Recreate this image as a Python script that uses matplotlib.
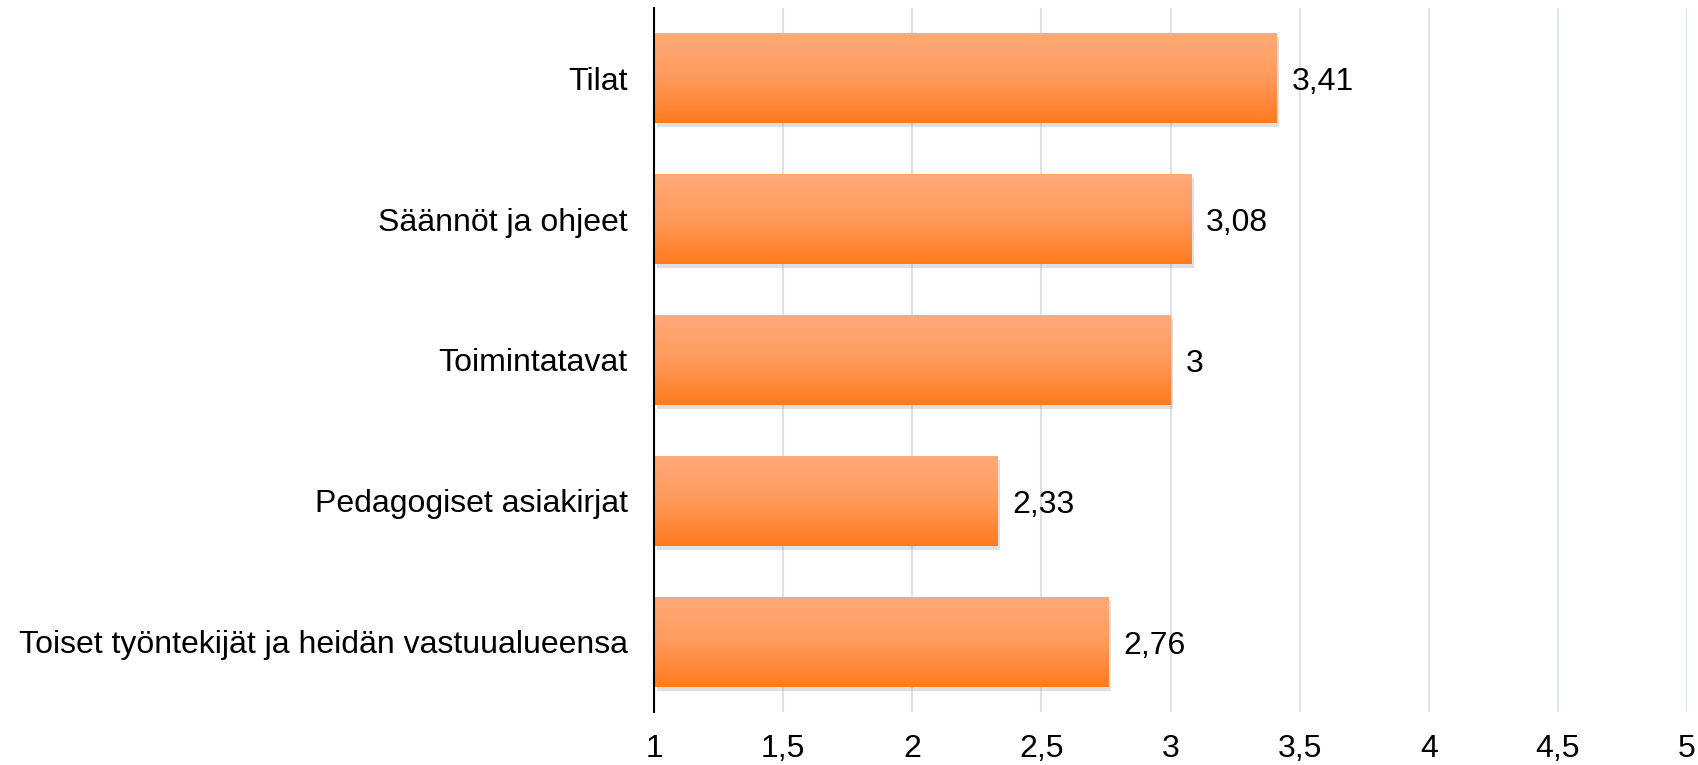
import matplotlib
matplotlib.use('Agg')
import matplotlib.pyplot as plt
import matplotlib.patheffects as pe
import numpy as np

plt.rcParams['font.family'] = ['Liberation Sans', 'DejaVu Sans']

# data, top to bottom as in the chart
categories = ['Tilat', 'Säännöt ja ohjeet', 'Toimintatavat',
              'Pedagogiset asiakirjat',
              'Toiset työntekijät ja heidän vastuualueensa']
values = [3.41, 3.08, 3.0, 2.33, 2.76]
xticks = [1, 1.5, 2, 2.5, 3, 3.5, 4, 4.5, 5]
xlabels = ['1', '1,5', '2', '2,5', '3', '3,5', '4', '4,5', '5']

fig = plt.figure(figsize=(16.99, 7.65), dpi=100)
ax = fig.add_axes([0.385, 0.069, 0.608, 0.921])

ypos = np.arange(len(categories))
bars = ax.barh(ypos, [v - 1 for v in values], left=1, height=0.64,
               facecolor='none', edgecolor='none', zorder=2)

# vertical colour gradient, light at top, darker at bottom
grad = np.linspace(0, 1, 256).reshape(-1, 1)
cmap = matplotlib.colors.LinearSegmentedColormap.from_list(
    'org', ['#ffaa7a', '#ff9a5c', '#ff7a1e'])
for b in bars:
    b.set_path_effects([pe.SimplePatchShadow(offset=(2, -3),
                                             shadow_rgbFace='#999999',
                                             alpha=0.3)])
    x0, y0 = b.get_x(), b.get_y()
    im = ax.imshow(grad, cmap=cmap, aspect='auto', zorder=3,
                   extent=[x0, x0 + b.get_width(), y0 + b.get_height(), y0],
                   interpolation='bicubic')
    im.set_clip_path(b)

for y, v in zip(ypos, values):
    txt = ('%g' % v).replace('.', ',')
    ax.text(v + 0.058, y + 0.03, txt, va='center', ha='left', fontsize=23,
            zorder=4)

ax.set_xlim(1, 5)
ax.set_ylim(len(categories) - 0.5, -0.5)
ax.set_xticks(xticks)
ax.set_xticklabels(xlabels, fontsize=23)
ax.set_yticks(ypos)
ax.set_yticklabels(categories, fontsize=23)
ax.tick_params(axis='x', length=0, pad=16)
ax.tick_params(axis='y', length=0, pad=19)

ax.grid(axis='x', color='#dbe2ec', linewidth=1.5, zorder=0)
ax.set_axisbelow(True)
for s in ['top', 'right', 'bottom']:
    ax.spines[s].set_visible(False)
ax.spines['left'].set_color('black')
ax.spines['left'].set_linewidth(1.5)
ax.spines['left'].set_zorder(5)

fig.savefig('out.png', dpi=100)
